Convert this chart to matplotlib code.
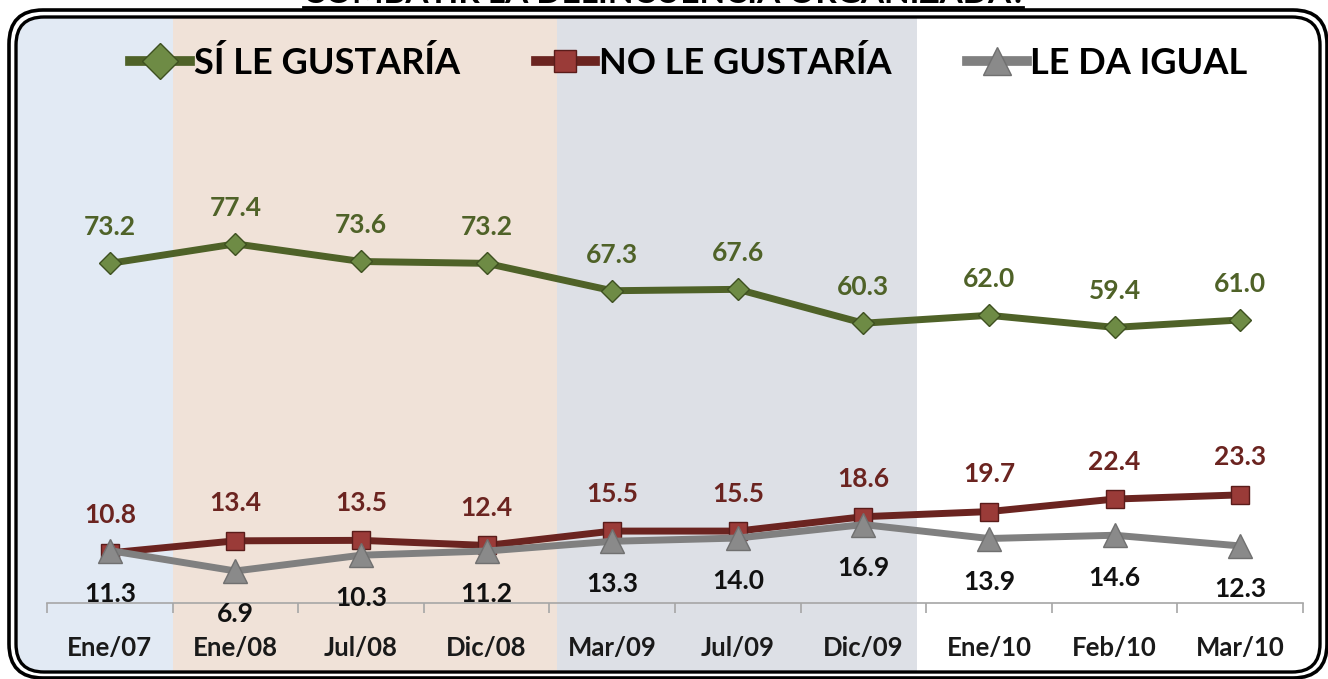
import numpy as np
import matplotlib.pyplot as plt
import matplotlib.transforms as mtransforms
from matplotlib.patches import Rectangle, FancyBboxPatch
from matplotlib.lines import Line2D

plt.rcParams['font.family'] = ['Lato', 'DejaVu Sans']

# data
categories = ['Ene/07', 'Ene/08', 'Jul/08', 'Dic/08', 'Mar/09',
              'Jul/09', 'Dic/09', 'Ene/10', 'Feb/10', 'Mar/10']
si_gusta = [73.2, 77.4, 73.6, 73.2, 67.3, 67.6, 60.3, 62.0, 59.4, 61.0]
no_gusta = [10.8, 13.4, 13.5, 12.4, 15.5, 15.5, 18.6, 19.7, 22.4, 23.3]
da_igual = [11.3, 6.9, 10.3, 11.2, 13.3, 14.0, 16.9, 13.9, 14.6, 12.3]
series_names = ['SÍ LE GUSTARÍA', 'NO LE GUSTARÍA', 'LE DA IGUAL']
title_text = 'COMBATIR LA DELINCUENCIA ORGANIZADA?'

W, H = 1328, 679
fig = plt.figure(figsize=(W / 100, H / 100), dpi=100)
fig.patch.set_facecolor('white')

# pixel coords with origin top-left
pix = mtransforms.Affine2D().scale(1 / W, -1 / H).translate(0, 1) + fig.transFigure

ax = fig.add_axes([47 / W, 1 - 603 / H, 1256 / W, 464 / H])
ax.set_facecolor('none')
x = np.arange(len(categories))
ax.set_xlim(-0.5, len(categories) - 0.5)
ax.set_ylim(0, 100)

# frame (double rounded border)
inner = FancyBboxPatch((16, 17), 1304, 655, boxstyle='round,pad=0,rounding_size=28',
                       transform=pix, facecolor='none', edgecolor='black', lw=2.4, zorder=5)
outer = FancyBboxPatch((9, 10), 1318, 668, boxstyle='round,pad=0,rounding_size=34',
                       transform=pix, facecolor='none', edgecolor='black', lw=2.6, zorder=5)
fig.add_artist(inner)
fig.add_artist(outer)

# background bands
band_tr = mtransforms.blended_transform_factory(ax.transData, fig.transFigure)
bands = [(-2, 0.5, '#E2EAF4'), (0.5, 3.56, '#F0E2D8'), (3.56, 6.43, '#DDE0E6'), (6.43, 12, 'white')]
for x0, x1, c in bands:
    r = Rectangle((x0, 0), x1 - x0, 1, transform=band_tr, facecolor=c,
                  edgecolor='none', zorder=-5)
    fig.add_artist(r)
    r.set_clip_path(inner)

# lines
ax.plot(x, si_gusta, color='#4F6228', lw=5, marker='D', ms=11,
        mfc='#6E8B45', mec='#3E5020', mew=1, zorder=3)
ax.plot(x, no_gusta, color='#6B2420', lw=5, marker='s', ms=13,
        mfc='#9A3B38', mec='#5A1C1A', mew=1, zorder=4)
ax.plot(x, da_igual, color='#808080', lw=5, marker='^', ms=17,
        mfc='#8A8A8A', mec='#707070', mew=1, zorder=5)

# data labels
for i in x:
    ax.annotate(f'{si_gusta[i]:.1f}', (i, si_gusta[i]), xytext=(0, 26),
                textcoords='offset points', ha='center', va='center',
                fontsize=19, fontweight='bold', color='#4F6228')
    ax.annotate(f'{no_gusta[i]:.1f}', (i, no_gusta[i]), xytext=(0, 27),
                textcoords='offset points', ha='center', va='center',
                fontsize=19, fontweight='bold', color='#6B2420')
    ax.annotate(f'{da_igual[i]:.1f}', (i, da_igual[i]), xytext=(0, -31),
                textcoords='offset points', ha='center', va='center',
                fontsize=19, fontweight='bold', color='#111111')

# axes styling
for s in ['top', 'left', 'right']:
    ax.spines[s].set_visible(False)
ax.spines['bottom'].set_color('#A6A6A6')
ax.spines['bottom'].set_linewidth(1.2)
ax.set_yticks([])
ax.set_xticks(x)
ax.set_xticklabels(categories, fontsize=18.5, fontweight='bold', color='#1A1A1A')
ax.tick_params(axis='x', which='major', length=0, pad=24)
ax.set_xticks(np.arange(-0.5, len(categories), 1.0), minor=True)
ax.tick_params(axis='x', which='minor', length=7, color='#A6A6A6', width=1.2)

# legend
handles = [
    Line2D([], [], color='#4F6228', lw=7, marker='D', ms=18, mfc='#6E8B45', mec='#3E5020'),
    Line2D([], [], color='#6B2420', lw=7, marker='s', ms=16, mfc='#9A3B38', mec='#5A1C1A'),
    Line2D([], [], color='#808080', lw=7, marker='^', ms=20, mfc='#8A8A8A', mec='#707070'),
]
fig.legend(handles, series_names, loc='center', bbox_to_anchor=(689 / W, 1 - 63 / H),
           ncol=3, frameon=False, handlelength=1.65, handletextpad=0.1,
           columnspacing=2.1, prop={'size': 26, 'weight': 'bold'})

# cut-off title at the very top
fig.text(665 / W, 1 - 3 / H, title_text, ha='center', va='baseline',
         fontsize=24, fontweight='bold', family=['Lato'])
fig.add_artist(Line2D([303, 1023], [7, 7], transform=pix, color='black', lw=2))

fig.savefig('out.png', dpi=100)
